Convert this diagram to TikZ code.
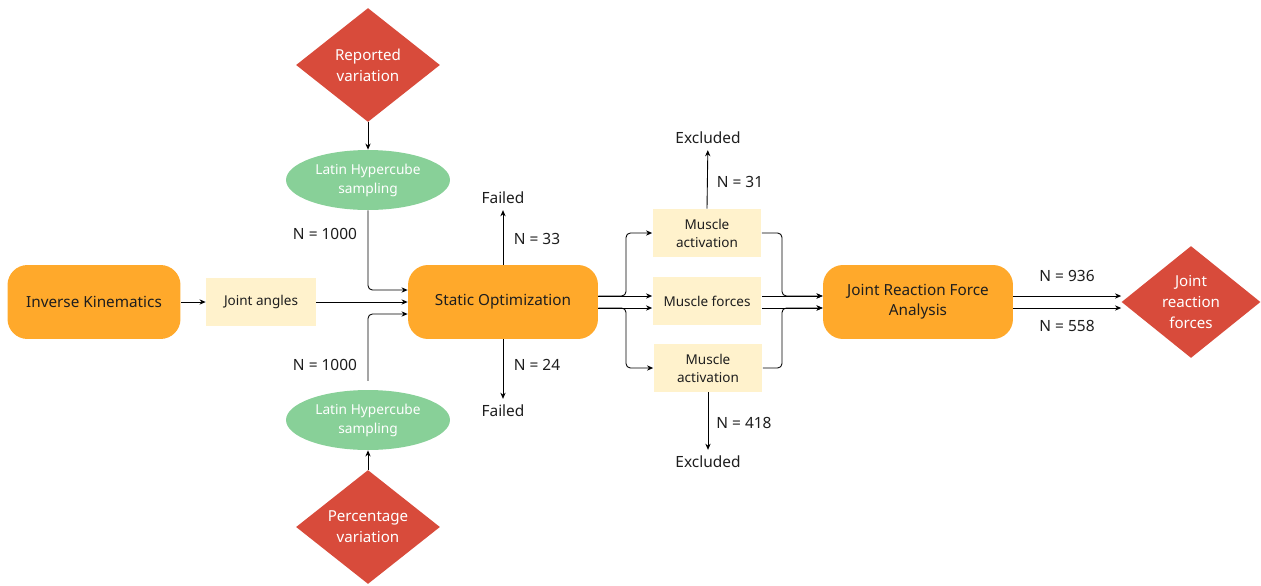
\documentclass[tikz,border=0pt]{standalone}
\usepackage{fontspec}
\setmainfont{Noto Sans}
\usetikzlibrary{shapes.geometric,arrows.meta}
\definecolor{stageorange}{HTML}{FFA92B}
\definecolor{datacream}{HTML}{FFF2CC}
\definecolor{lhsgreen}{HTML}{88D098}
\definecolor{srcred}{HTML}{D84B3B}
\definecolor{txtdark}{HTML}{1E1E1E}

\tikzset{
  stage/.style={fill=stageorange, rounded corners=0.4cm, minimum width=3.8cm,
    minimum height=1.48cm, align=center, text=txtdark,
    font=\fontsize{8.7}{11.3}\selectfont},
  data/.style={fill=datacream, minimum width=2.18cm, minimum height=0.96cm,
    align=center, text=txtdark, font=\fontsize{7.7}{10.2}\selectfont},
  sampler/.style={ellipse, fill=lhsgreen, minimum width=3.28cm,
    minimum height=1.2cm, inner sep=0pt, text=white, align=center,
    font=\fontsize{7.8}{10.8}\selectfont},
  source/.style={diamond, fill=srcred, minimum width=2.88cm,
    minimum height=2.28cm, inner sep=0pt, text=white, align=center,
    font=\fontsize{8.6}{12}\selectfont},
  lbl/.style={text=txtdark, font=\fontsize{8.8}{11}\selectfont},
  arr/.style={-{Stealth[length=3.5pt,width=3pt]}, line width=0.5pt},
}

\begin{document}
\begin{tikzpicture}[x=0.02cm, y=-0.02cm]
\useasboundingbox (0,0) rectangle (1261,585);

% main chain
\node[stage, minimum width=3.46cm] (ik) at (94,302) {Inverse Kinematics};
\node[data, minimum width=2.2cm] (ja) at (261,302) {Joint angles};
\node[stage] (so) at (503,302) {Static Optimization};
\node[stage] (jrfa) at (918,302) {Joint Reaction Force\\Analysis};
\node[source, minimum width=2.78cm, minimum height=2.24cm] (jrf) at (1191,302) {Joint\\reaction\\forces};

% sampling of the inputs
\node[source] (rv) at (368,65) {Reported\\variation};
\node[sampler] (lhs1) at (368,180) {Latin Hypercube\\sampling};
\node[sampler] (lhs2) at (368,420) {Latin Hypercube\\sampling};
\node[source] (pv) at (368,527) {Percentage\\variation};

% outputs of static optimization
\node[data] (ma1) at (707,233) {Muscle\\activation};
\node[data] (mf) at (707,301) {Muscle forces};
\node[data] (ma2) at (708,368) {Muscle\\activation};

% end points
\node[lbl] (fail1) at (503,198) {Failed};
\node[lbl] (fail2) at (503,411) {Failed};
\node[lbl] (excl1) at (708,138) {Excluded};
\node[lbl] (excl2) at (708,462) {Excluded};

\draw[arr] (ik) -- (ja);
\draw[arr] (ja) -- (so);
\draw[arr] (rv) -- (lhs1);
\draw[arr] (pv) -- (lhs2);
\draw[arr, rounded corners=2.5pt] (lhs1.south) |- (so.west |- 0,290);
\draw[arr, rounded corners=2.5pt, shorten <=5pt] (lhs2.north) |- (so.west |- 0,314);
\node[lbl] at (325,234) {N = 1000};
\node[lbl] at (325,365) {N = 1000};

\draw[arr] (so.north) -- (fail1);
\draw[arr] (so.south) -- (fail2);
\node[lbl] at (537,239) {N = 33};
\node[lbl] at (537,365) {N = 24};

\draw[arr] (so.east |- 0,296) -- (mf.west |- 0,296);
\draw[arr] (so.east |- 0,308) -- (mf.west |- 0,308);
\draw[arr, rounded corners=2.5pt] (so.east |- 0,296) -- (626,296) |- (ma1.west);
\draw[arr, rounded corners=2.5pt] (so.east |- 0,308) -- (626,308) |- (ma2.west);

\draw[arr] (ma1.north) -- (excl1);
\draw[arr] (ma2.south) -- (excl2);
\node[lbl] at (740,182) {N = 31};
\node[lbl] at (744,423) {N = 418};

\draw[arr] (mf.east |- 0,296) -- (jrfa.west |- 0,296);
\draw[arr] (mf.east |- 0,308) -- (jrfa.west |- 0,308);
\draw[arr, rounded corners=2.5pt] (ma1.east) -- (782,233) |- (jrfa.west |- 0,296);
\draw[arr, rounded corners=2.5pt] (ma2.east) -- (782,368) |- (jrfa.west |- 0,308);

\draw[arr] (jrfa.east |- 0,296) -- (jrf.west |- 0,296);
\draw[arr] (jrfa.east |- 0,308) -- (jrf.west |- 0,308);
\node[lbl] at (1067,276) {N = 936};
\node[lbl] at (1067,326) {N = 558};
\end{tikzpicture}
\end{document}
